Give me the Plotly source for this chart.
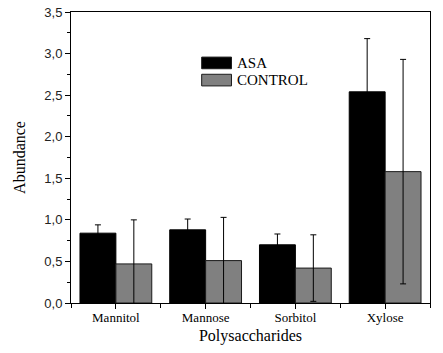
import plotly.graph_objects as go

categories = ["Mannitol", "Mannose", "Sorbitol", "Xylose"]
asa_values = [0.84, 0.88, 0.70, 2.54]
asa_errors = [0.10, 0.13, 0.13, 0.64]
control_values = [0.47, 0.51, 0.42, 1.58]
control_errors = [0.53, 0.52, 0.40, 1.35]
y_tick_values = [0, 0.5, 1.0, 1.5, 2.0, 2.5, 3.0, 3.5]
y_tick_labels = ["0,0", "0,5", "1,0", "1,5", "2,0", "2,5", "3,0", "3,5"]

serif = "Liberation Serif, Times New Roman, serif"
sans = "Liberation Sans, Arial, sans-serif"

fig = go.Figure()
fig.add_trace(go.Bar(
    x=categories, y=asa_values, name="ASA",
    marker=dict(color="#000000", line=dict(color="#000000", width=1)),
    error_y=dict(type="data", array=asa_errors, symmetric=True,
                 color="#000000", thickness=1, width=3),
    showlegend=False,
))
fig.add_trace(go.Bar(
    x=categories, y=control_values, name="CONTROL",
    marker=dict(color="#808080", line=dict(color="#1a1a1a", width=1)),
    error_y=dict(type="data", array=control_errors, symmetric=True,
                 color="#000000", thickness=1, width=3),
    showlegend=False,
))
# invisible trace to carry boundary ticks on a linear overlay axis
fig.add_trace(go.Scatter(x=[-0.5, 3.5], y=[0, 0], xaxis="x2", mode="markers",
                         marker=dict(opacity=0), showlegend=False, hoverinfo="skip"))

fig.update_layout(
    width=443, height=353,
    margin=dict(l=71, r=13, t=12, b=50),
    paper_bgcolor="white", plot_bgcolor="white",
    barmode="group", bargap=0.2, bargroupgap=0,
    xaxis=dict(
        type="category", range=[-0.5, 3.5], automargin=False,
        showline=True, linecolor="black", linewidth=1, mirror=True,
        ticks="outside", ticklen=5, tickcolor="black", tickwidth=1,
        ticklabelstandoff=-3,
        showgrid=False, zeroline=False,
        tickfont=dict(family=serif, size=13, color="black"),
        title=dict(text="Polysaccharides", font=dict(family=serif, size=16, color="black"),
                   standoff=6),
    ),
    xaxis2=dict(
        overlaying="x", range=[-0.5, 3.5], side="bottom", automargin=False,
        tickvals=[-0.5, 0.5, 1.5, 2.5, 3.5], showticklabels=False,
        ticks="outside", ticklen=4, tickcolor="black", tickwidth=1,
        showgrid=False, zeroline=False, showline=False,
    ),
    yaxis=dict(
        range=[0, 3.5], automargin=False,
        tickvals=y_tick_values, ticktext=y_tick_labels,
        showline=True, linecolor="black", linewidth=1, mirror=True,
        ticks="outside", ticklen=5, tickcolor="black", tickwidth=1,
        minor=dict(dtick=0.25, ticks="outside", ticklen=3, tickcolor="black", showgrid=False),
        showgrid=False, zeroline=False,
        tickfont=dict(family=sans, size=13, color="#222222"),
        title=dict(text="Abundance", font=dict(family=serif, size=16, color="black"),
                   standoff=14),
    ),
)

# legend drawn as swatches + labels
legend_items = [("ASA", "#000000"), ("CONTROL", "#808080")]
for i, (label, color) in enumerate(legend_items):
    y_top = 0.845 - i * 0.059
    fig.add_shape(type="rect", xref="paper", yref="paper",
                  x0=0.364, x1=0.447, y0=y_top - 0.040, y1=y_top,
                  fillcolor=color, line=dict(color="#1a1a1a", width=1))
    fig.add_annotation(xref="paper", yref="paper", x=0.456, y=y_top - 0.020,
                       text=label, showarrow=False, xanchor="left", yanchor="middle",
                       font=dict(family=serif, size=15, color="black"))

fig.write_html("out.html", config={"displayModeBar": False},
               post_script="document.body.style.margin='0px';")
